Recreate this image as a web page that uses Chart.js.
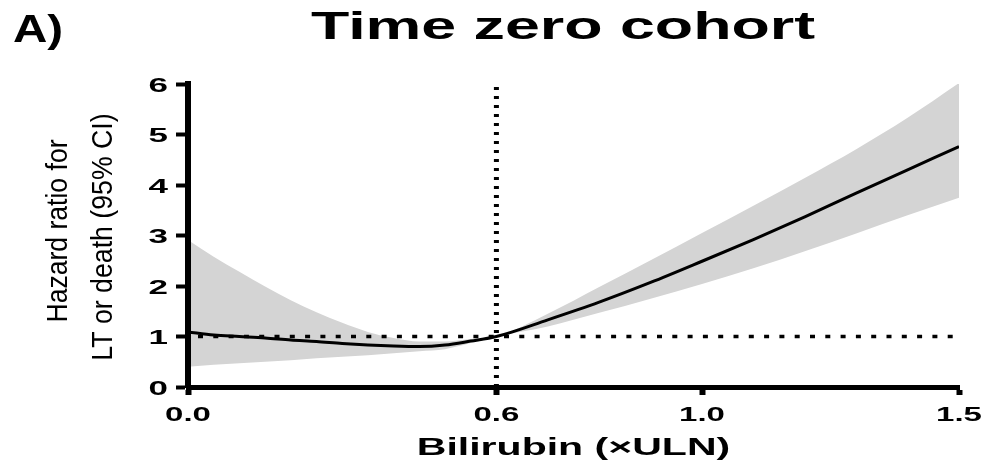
<!DOCTYPE html>
<html>
<head>
<meta charset="utf-8">
<script src="https://cdn.jsdelivr.net/npm/chart.js@4.4.1/dist/chart.umd.min.js"></script>
<style>
  body { margin: 0; background: #fff; }
  #wrap { width: 986px; height: 467px; position: relative; }
</style>
</head>
<body>
<div id="wrap"><canvas id="grafico"></canvas></div>
<script>
// valores
const bilirubina = [0, 0.05, 0.1, 0.15, 0.2, 0.25, 0.3, 0.35, 0.4, 0.45, 0.5, 0.55, 0.6, 0.7, 0.8, 0.9, 1.0, 1.1, 1.2, 1.3, 1.4, 1.5];
const hazard     = [1.09, 1.03, 1.0, 0.97, 0.93, 0.9, 0.86, 0.83, 0.81, 0.8, 0.83, 0.91, 1.0, 1.33, 1.68, 2.07, 2.49, 2.92, 3.37, 3.84, 4.3, 4.76];
const icSuperior = [2.91, 2.58, 2.28, 1.99, 1.72, 1.48, 1.27, 1.09, 0.97, 0.9, 0.9, 0.95, 1.0, 1.45, 1.98, 2.51, 3.05, 3.59, 4.14, 4.71, 5.33, 6.02];
const icInferior = [0.4, 0.44, 0.47, 0.5, 0.53, 0.57, 0.6, 0.63, 0.67, 0.71, 0.75, 0.87, 1.0, 1.2, 1.47, 1.75, 2.04, 2.35, 2.69, 3.04, 3.4, 3.75];

const xTicks = [0, 0.6, 1.0, 1.5];
const xTickLabels = ["0.0", "0.6", "1.0", "1.5"];
const yTicks = [0, 1, 2, 3, 4, 5, 6];
const corteX = 0.6;
const referenciaY = 1;

const puntos = arr => bilirubina.map((x, i) => ({ x, y: arr[i] }));

// texto estirado a lo ancho, como en la figura original
function texto(ctx, str, x, y, font, sx, align, base, rot) {
  ctx.save();
  ctx.translate(x, y);
  if (rot) ctx.rotate(rot);
  ctx.scale(sx, 1);
  ctx.font = font;
  ctx.fillStyle = "#000";
  ctx.textAlign = align;
  ctx.textBaseline = base;
  ctx.fillText(str, 0, 0);
  ctx.restore();
}

const textos = {
  id: "textos",
  afterDraw(chart) {
    const ctx = chart.ctx;
    const xs = chart.scales.x, ys = chart.scales.y;
    const fam = '"Liberation Sans", Arial, sans-serif';

    texto(ctx, "A)", 13, 42, "bold 39px " + fam, 1.22, "left", "alphabetic");
    texto(ctx, "Time zero cohort", 563, 39, "bold 38px " + fam, 1.65, "center", "alphabetic");

    xTicks.forEach((v, i) => {
      texto(ctx, xTickLabels[i], xs.getPixelForValue(v), 421, "bold 20px " + fam, 1.65, "center", "alphabetic");
    });
    yTicks.forEach(v => {
      texto(ctx, String(v), 168, ys.getPixelForValue(v) + 2, "bold 20px " + fam, 1.75, "right", "middle");
    });

    const cx = (chart.chartArea.left + chart.chartArea.right) / 2;
    texto(ctx, "Bilirubin (\u00d7ULN)", cx, 455, "bold 24px " + fam, 1.71, "center", "alphabetic");

    texto(ctx, "Hazard ratio for", 67, 231, "30px " + fam, 0.885, "center", "alphabetic", -Math.PI / 2);
    texto(ctx, "LT or death (95% CI)", 112, 237, "30px " + fam, 0.89, "center", "alphabetic", -Math.PI / 2);
  }
};

const ctx = document.getElementById("grafico").getContext("2d");
new Chart(ctx, {
  type: "line",
  data: {
    datasets: [
      {
        label: "IC superior",
        data: puntos(icSuperior),
        borderWidth: 0,
        borderColor: "rgba(0,0,0,0)",
        backgroundColor: "#d4d4d4",
        pointRadius: 0,
        fill: "+1",
        cubicInterpolationMode: "monotone",
        order: 3
      },
      {
        label: "IC inferior",
        data: puntos(icInferior),
        borderWidth: 0,
        borderColor: "rgba(0,0,0,0)",
        pointRadius: 0,
        fill: false,
        cubicInterpolationMode: "monotone",
        order: 3
      },
      {
        label: "corte",
        data: [{ x: corteX, y: 0 }, { x: corteX, y: 6 }],
        borderColor: "#000",
        borderWidth: 5,
        borderDash: [3, 6],
        pointRadius: 0,
        fill: false,
        order: 2
      },
      {
        label: "referencia",
        data: [{ x: 0, y: referenciaY }, { x: 1.5, y: referenciaY }],
        borderColor: "#000",
        borderWidth: 3.5,
        borderDash: [5, 10.3],
        borderDashOffset: -10,
        pointRadius: 0,
        fill: false,
        order: 1
      },
      {
        label: "Hazard ratio",
        data: puntos(hazard),
        borderColor: "#000",
        borderWidth: 3,
        pointRadius: 0,
        fill: false,
        cubicInterpolationMode: "monotone",
        order: 0
      }
    ]
  },
  options: {
    responsive: true,
    maintainAspectRatio: false,
    animation: false,
    layout: { padding: { left: 176, right: 27, top: 84, bottom: 72 } },
    scales: {
      x: {
        type: "linear",
        min: 0,
        max: 1.5,
        afterBuildTicks: axis => { axis.ticks = xTicks.map(v => ({ value: v })); },
        ticks: { display: false },
        grid: { drawOnChartArea: false, drawTicks: true, tickLength: 8, tickWidth: 6, tickColor: "#000" },
        border: { color: "#000", width: 5, z: 1 }
      },
      y: {
        type: "linear",
        min: 0,
        max: 6,
        afterBuildTicks: axis => { axis.ticks = yTicks.map(v => ({ value: v })); },
        ticks: { display: false },
        grid: { drawOnChartArea: false, drawTicks: true, tickLength: 12, tickWidth: 4, tickColor: "#000" },
        border: { color: "#000", width: 6, z: 1 }
      }
    },
    plugins: {
      legend: { display: false },
      tooltip: { enabled: false },
      title: { display: false }
    }
  },
  plugins: [textos]
});
</script>
</body>
</html>
